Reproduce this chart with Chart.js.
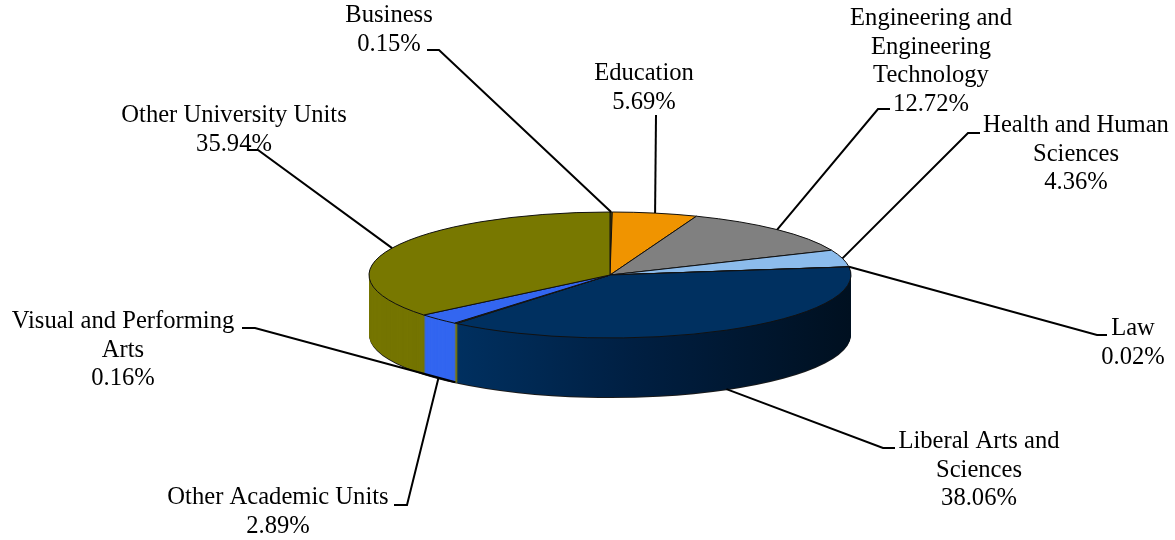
<!DOCTYPE html>
<html>
<head>
<meta charset="utf-8">
<title>Pie</title>
<style>
  html, body { margin: 0; padding: 0; background: #fff; }
  #wrap { width: 1175px; height: 540px; }
</style>
<script src="https://cdn.jsdelivr.net/npm/chart.js@4"></script>
</head>
<body>
<div id="wrap"><canvas id="grafico" width="1175" height="540"></canvas></div>
<script>
const categories = ['Business', 'Education', 'Engineering and Engineering Technology', 'Health and Human Sciences', 'Law', 'Liberal Arts and Sciences', 'Visual and Performing Arts', 'Other Academic Units', 'Other University Units'];
const percents = [0.15, 5.69, 12.72, 4.36, 0.02, 38.06, 0.16, 2.89, 35.94];
const topColors = ['#5c5200', '#f09400', '#808080', '#8cbcec', '#1a3c6a', '#003060', '#807a00', '#3366f0', '#787800'];
const wallColors = ['#5c5200', '#f09400', '#808080', '#8cbcec', '#1a3c6a', null, '#807a00', '#3366f0', '#757500'];

// label wrapping and where each callout sits: [center x, first baseline, elbow start x, elbow end x, elbow y]
const labelLines = [['Business'], ['Education'], ['Engineering and', 'Engineering', 'Technology'], ['Health and Human', 'Sciences'], ['Law'], ['Liberal Arts and', 'Sciences'], ['Visual and Performing', 'Arts'], ['Other Academic Units'], ['Other University Units']];
const callouts = [
  [389, 22, 427, 439, 50],
  [644, 80, 656, 656, 115],
  [931, 25, 890, 878, 109],
  [1076, 132, 980, 968, 133],
  [1133, 335, 1107, 1097, 335],
  [979, 448, 895, 883, 448],
  [123, 328, 242, 255, 328],
  [278, 504, 394, 407, 505],
  [234, 122, 247, 258, 150]
];
// callouts that touch the front wall instead of the top face
const onWall = [false, false, false, false, false, true, true, true, false];

const squash = 63 / 241;
const depth = 59;
const lineGap = 28.6;

function squashed(ctx, arc, dy) {
  ctx.translate(arc.x, arc.y + dy);
  ctx.scale(1, squash);
  ctx.translate(-arc.x, -arc.y);
}

function drawWall(ctx, arcs, dy, fills) {
  ctx.save();
  squashed(ctx, arcs[0], dy);
  arcs.forEach((arc, i) => {
    const real = arc.options;
    const copy = Object.create(real);
    copy.backgroundColor = fills(i);
    copy.borderWidth = 0;
    arc.options = copy;
    arc.draw(ctx);
    arc.options = real;
  });
  ctx.restore();
}

const pie3d = {
  id: 'pie3d',
  beforeDatasetDraw(chart) {
    const ctx = chart.ctx;
    const arcs = chart.getDatasetMeta(0).data;

    const grad = ctx.createLinearGradient(455, 0, 851, 0);
    grad.addColorStop(0, '#003060');
    grad.addColorStop(0.45, '#001f42');
    grad.addColorStop(1, '#001020');

    drawWall(ctx, arcs, depth + 1, () => '#1a1a1a');
    for (let d = depth; d > 0; d -= 0.5) {
      drawWall(ctx, arcs, d, i => wallColors[i] || grad);
    }

    ctx.save();
    squashed(ctx, arcs[0], 0);
    // stroke with a round pen, the outline would get thin on the flattened side otherwise
    const stroke = ctx.stroke;
    ctx.stroke = function () {
      CanvasRenderingContext2D.prototype.save.call(ctx);
      ctx.setTransform(1, 0, 0, 1, 0, 0);
      stroke.call(ctx);
      CanvasRenderingContext2D.prototype.restore.call(ctx);
    };
  },
  afterDatasetDraw(chart) {
    delete chart.ctx.stroke;
    chart.ctx.restore();
  },
  afterDraw(chart) {
    const ctx = chart.ctx;
    const arcs = chart.getDatasetMeta(0).data;
    ctx.save();
    ctx.font = '24.6px "Liberation Serif"';
    ctx.textAlign = 'center';
    ctx.fillStyle = '#000';
    ctx.strokeStyle = '#000';
    ctx.lineWidth = 2;
    arcs.forEach((arc, i) => {
      const [cx, base, x0, x1, yElbow] = callouts[i];
      const mid = (arc.startAngle + arc.endAngle) / 2;
      const ax = arc.x + arc.outerRadius * Math.cos(mid);
      const ay = arc.y + arc.outerRadius * squash * Math.sin(mid) + (onWall[i] ? depth : 0);

      ctx.beginPath();
      ctx.moveTo(x0, yElbow);
      ctx.lineTo(x1, yElbow);
      ctx.lineTo(ax, ay);
      ctx.stroke();

      const lines = labelLines[i].concat(percents[i].toFixed(2) + '%');
      lines.forEach((txt, n) => ctx.fillText(txt, cx, base + n * lineGap));
    });
    ctx.restore();
  }
};

new Chart(document.getElementById('grafico').getContext('2d'), {
  type: 'pie',
  data: {
    labels: categories,
    datasets: [{
      data: percents,
      backgroundColor: topColors,
      borderColor: '#111',
      borderWidth: 1,
      clip: false
    }]
  },
  options: {
    responsive: false,
    animation: false,
    radius: 241,
    layout: { padding: { left: 45, top: 10 } },
    plugins: { legend: { display: false }, tooltip: { enabled: false } }
  },
  plugins: [pie3d]
});
</script>
</body>
</html>
